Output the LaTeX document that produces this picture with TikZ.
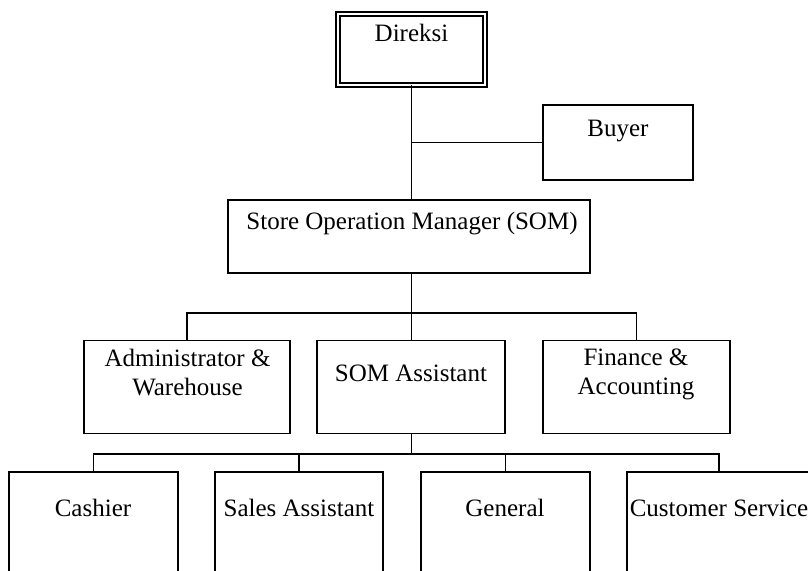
\documentclass[tikz,border=0pt]{standalone}
\usepackage{fontspec}
\setmainfont{Liberation Serif}
\begin{document}
\begin{tikzpicture}[x=1pt,y=-1pt,
  box/.style={draw=black, line width=1.2pt, rectangle, inner sep=0pt, outer sep=0pt, fill=white},
  dbox/.style={box, double, double distance=2.8pt},
  lbl/.style={font=\fontsize{25}{30}\selectfont, inner sep=0pt, anchor=base},
  conn/.style={draw=black, line width=1.2pt}]
\clip (0,0) rectangle (808,570);
\fill[white] (0,0) rectangle (808,570);
% boxes
\node[dbox, minimum width=147pt, minimum height=71pt] (Direksi) at (411.5,49.5) {};
\node[box, minimum width=150pt, minimum height=75pt] (Buyer) at (618,142.5) {};
\node[box, minimum width=362pt, minimum height=73pt] (SOM) at (409,236.5) {};
\node[box, minimum width=206pt, minimum height=93pt] (Admin) at (187,387) {};
\node[box, minimum width=188pt, minimum height=93pt] (SOMA) at (411,387) {};
\node[box, minimum width=187pt, minimum height=93pt] (Fin) at (636.5,387) {};
\node[box, minimum width=169pt, minimum height=128pt] (Cashier) at (93.5,536) {};
\node[box, minimum width=168pt, minimum height=128pt] (Sales) at (299,536) {};
\node[box, minimum width=169pt, minimum height=128pt] (General) at (505.5,536) {};
\node[box, minimum width=184pt, minimum height=128pt] (CS) at (719,536) {};
% bus points
\coordinate (bus1) at (411.5,313);
\coordinate (bus2) at (411.5,454);
% connectors
\draw[conn] (Direksi.south) -- (Direksi.south |- SOM.north);
\draw[conn] (Buyer.west) -- (Buyer.west -| Direksi.south);
\draw[conn] (SOM.south -| bus1) -- (bus1);
\draw[conn] (Admin.north) -- (Admin.north |- bus1) -- (Fin.north |- bus1) -- (Fin.north);
\draw[conn] (bus1) -- (bus1 |- SOMA.north);
\draw[conn] (bus1 |- SOMA.south) -- (bus2);
\draw[conn] (Cashier.north) -- (Cashier.north |- bus2) -- (CS.north |- bus2) -- (CS.north);
\draw[conn] (Sales.north) -- (Sales.north |- bus2);
\draw[conn] (General.north) -- (General.north |- bus2);
% labels
\node[lbl] (tDireksi) at (411.5,41.5) {Direksi};
\node[lbl] (tBuyer) at (618,136) {Buyer};
\node[lbl] (tSOM) at (412,229) {Store Operation Manager (SOM)};
\node[lbl] (tAdmin1) at (187.5,366) {Administrator \&};
\node[lbl] (tAdmin2) at (187.5,395) {Warehouse};
\node[lbl] (tSOMA) at (411,381.5) {SOM Assistant};
\node[lbl] (tFin1) at (636,365) {Finance \&};
\node[lbl] (tFin2) at (636,394) {Accounting};
\node[lbl] (tCashier) at (93,516.5) {Cashier};
\node[lbl] (tSales) at (299,516.5) {Sales Assistant};
\node[lbl] (tGeneral) at (505,516.5) {General};
\node[lbl] (tCS) at (719,516.5) {Customer Service};
\end{tikzpicture}
\end{document}
